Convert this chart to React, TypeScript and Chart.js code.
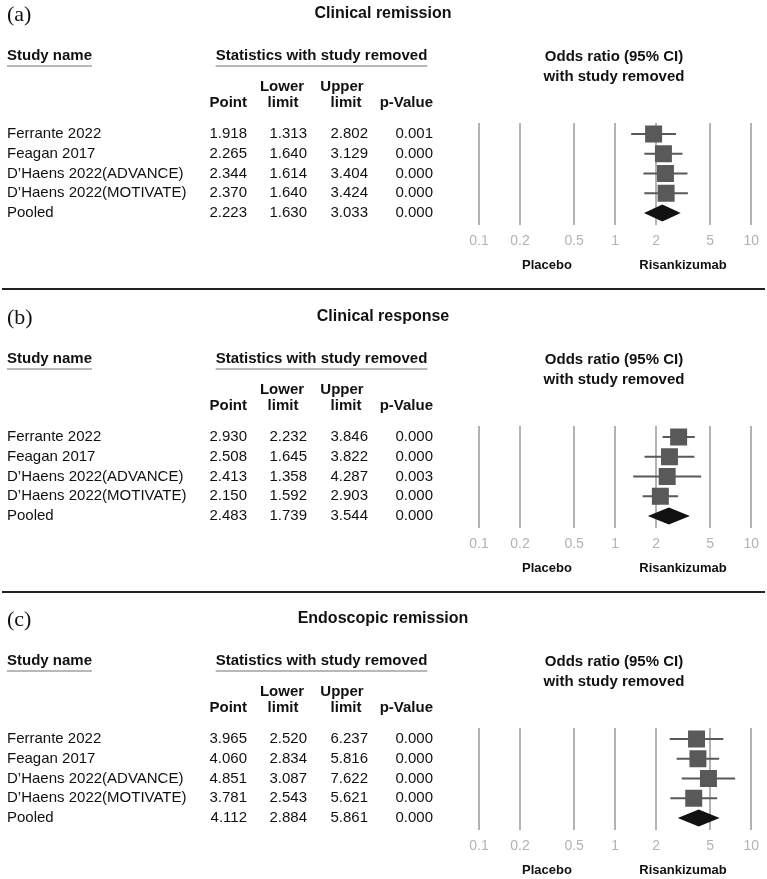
import React, { useEffect, useRef } from "react";
import { Chart, registerables } from "chart.js";
Chart.register(...registerables);

const STUDIES = ["Ferrante 2022", "Feagan 2017", "D’Haens 2022(ADVANCE)", "D’Haens 2022(MOTIVATE)", "Pooled"];
const TICKS = [0.1, 0.2, 0.5, 1, 2, 5, 10];
const SIDE_LABELS = ["Placebo", "Risankizumab"];

const A_POINT = [1.918, 2.265, 2.344, 2.370, 2.223];
const A_LOWER = [1.313, 1.640, 1.614, 1.640, 1.630];
const A_UPPER = [2.802, 3.129, 3.404, 3.424, 3.033];
const A_P = ["0.001", "0.000", "0.000", "0.000", "0.000"];

const B_POINT = [2.930, 2.508, 2.413, 2.150, 2.483];
const B_LOWER = [2.232, 1.645, 1.358, 1.592, 1.739];
const B_UPPER = [3.846, 3.822, 4.287, 2.903, 3.544];
const B_P = ["0.000", "0.000", "0.003", "0.000", "0.000"];

const C_POINT = [3.965, 4.060, 4.851, 3.781, 4.112];
const C_LOWER = [2.520, 2.834, 3.087, 2.543, 2.884];
const C_UPPER = [6.237, 5.816, 7.622, 5.621, 5.861];
const C_P = ["0.000", "0.000", "0.000", "0.000", "0.000"];

const SANS = '"Liberation Sans", Arial, Helvetica, sans-serif';
const SERIF = '"Liberation Serif", "Times New Roman", serif';
const INK = "#111111";
const MARK = "#595959";
const GRID = "#b3b3b3";

type PanelProps = {
  label: string;
  title: string;
  point: number[];
  lower: number[];
  upper: number[];
  pval: string[];
  top: number;
  height: number;
  separator: boolean;
};

function Panel({ label, title, point, lower, upper, pval, top, height, separator }: PanelProps) {
  const ref = useRef<HTMLCanvasElement>(null);
  useEffect(() => {
    const canvas = ref.current!;
    const n = STUDIES.length;
    const last = n - 1;

    const ciSets = STUDIES.slice(0, last).map((s, i) => ({
      label: s + " CI",
      data: [{ x: lower[i], y: i }, { x: upper[i], y: i }],
      showLine: true,
      borderColor: MARK,
      borderWidth: 2,
      pointRadius: 0,
      order: 2,
    }));
    const squares = {
      label: "Point",
      data: point.slice(0, last).map((v, i) => ({ x: v, y: i })),
      pointStyle: "rect",
      pointRadius: 12,
      backgroundColor: MARK,
      borderWidth: 0,
      order: 1,
    };

    const diamondPlugin = {
      id: "diamond",
      afterDatasetsDraw(chart: any) {
        const xs = chart.scales.x;
        const ys = chart.scales.y;
        const ctx = chart.ctx;
        const y = ys.getPixelForValue(last);
        const xl = xs.getPixelForValue(lower[last]);
        const xp = xs.getPixelForValue(point[last]);
        const xu = xs.getPixelForValue(upper[last]);
        ctx.save();
        ctx.fillStyle = INK;
        ctx.beginPath();
        ctx.moveTo(xl, y);
        ctx.lineTo(xp, y - 8.5);
        ctx.lineTo(xu, y);
        ctx.lineTo(xp, y + 8.5);
        ctx.closePath();
        ctx.fill();
        ctx.restore();
      },
    };

    const textPlugin = {
      id: "tableText",
      afterDraw(chart: any) {
        const ctx = chart.ctx;
        const ys = chart.scales.y;
        const bold = (s: number) => `bold ${s}px ${SANS}`;
        const text = (t: string, x: number, y: number, align: CanvasTextAlign, font: string, color = INK) => {
          ctx.font = font;
          ctx.fillStyle = color;
          ctx.textAlign = align;
          ctx.textBaseline = "middle";
          ctx.fillText(t, x, y);
        };
        const underline = (x1: number, x2: number, y: number) => {
          ctx.strokeStyle = "#a0a0a0";
          ctx.lineWidth = 1.5;
          ctx.beginPath();
          ctx.moveTo(x1, y);
          ctx.lineTo(x2, y);
          ctx.stroke();
        };
        ctx.save();
        text(label, 7, 15, "left", `22px ${SERIF}`);
        text(title, 383, 14, "center", bold(16));

        text("Study name", 7, 56, "left", bold(15));
        ctx.font = bold(15);
        underline(7, 7 + ctx.measureText("Study name").width, 66);
        const stat = "Statistics with study removed";
        text(stat, 321.5, 56, "center", bold(15));
        ctx.font = bold(15);
        const sw = ctx.measureText(stat).width;
        underline(321.5 - sw / 2, 321.5 + sw / 2, 66);

        text("Odds ratio (95% CI)", 614, 57, "center", bold(15));
        text("with study removed", 614, 77, "center", bold(15));

        text("Lower", 282, 87, "center", bold(15));
        text("Upper", 342, 87, "center", bold(15));
        text("Point", 247, 103, "right", bold(15));
        text("limit", 283, 103, "center", bold(15));
        text("limit", 346, 103, "center", bold(15));
        text("p-Value", 433, 103, "right", bold(15));

        const reg = `15px ${SANS}`;
        for (let i = 0; i < n; i++) {
          const y = ys.getPixelForValue(i);
          text(STUDIES[i], 7, y, "left", reg);
          text(point[i].toFixed(3), 247, y, "right", reg);
          text(lower[i].toFixed(3), 307, y, "right", reg);
          text(upper[i].toFixed(3), 368, y, "right", reg);
          text(pval[i], 433, y, "right", reg);
        }

        text(SIDE_LABELS[0], 547, 265, "center", bold(13));
        text(SIDE_LABELS[1], 683, 265, "center", bold(13));

        if (separator) {
          ctx.strokeStyle = "#222222";
          ctx.lineWidth = 2;
          ctx.beginPath();
          ctx.moveTo(2, 289);
          ctx.lineTo(765, 289);
          ctx.stroke();
        }
        ctx.restore();
      },
    };

    const chart = new Chart(canvas, {
      type: "scatter",
      data: { datasets: [...ciSets, squares] as any },
      options: {
        animation: false,
        responsive: false,
        events: [],
        layout: { padding: { left: 479, right: 13, top: 123, bottom: height - 225 - 30 } },
        plugins: { legend: { display: false }, tooltip: { enabled: false } },
        scales: {
          x: {
            type: "logarithmic",
            min: 0.1,
            max: 10,
            afterBuildTicks: (s: any) => {
              s.ticks = TICKS.map((v) => ({ value: v }));
            },
            afterFit: (s: any) => {
              s.height = 30;
            },
            grid: { color: GRID, lineWidth: 2, drawTicks: false },
            border: { display: false },
            ticks: {
              color: GRID,
              font: { family: SANS, size: 14 },
              padding: 8,
              autoSkip: false,
              maxRotation: 0,
              callback: (v: any) => String(v),
            },
          },
          y: { type: "linear", reverse: true, min: -0.55, max: 4.6, display: false },
        },
      } as any,
      plugins: [diamondPlugin, textPlugin],
    });
    return () => chart.destroy();
  }, []);
  return (
    <canvas
      ref={ref}
      width={767}
      height={height}
      style={{ display: "block", position: "absolute", left: 0, top, width: 767, height }}
    />
  );
}

export default function App() {
  return (
    <div style={{ position: "absolute", left: 0, top: 0, width: 767, height: 879, overflow: "hidden", background: "#fff" }}>
      <Panel label="(a)" title="Clinical remission" point={A_POINT} lower={A_LOWER} upper={A_UPPER} pval={A_P} top={0} height={303} separator={true} />
      <Panel label="(b)" title="Clinical response" point={B_POINT} lower={B_LOWER} upper={B_UPPER} pval={B_P} top={303} height={303} separator={true} />
      <Panel label="(c)" title="Endoscopic remission" point={C_POINT} lower={C_LOWER} upper={C_UPPER} pval={C_P} top={605} height={274} separator={false} />
    </div>
  );
}
